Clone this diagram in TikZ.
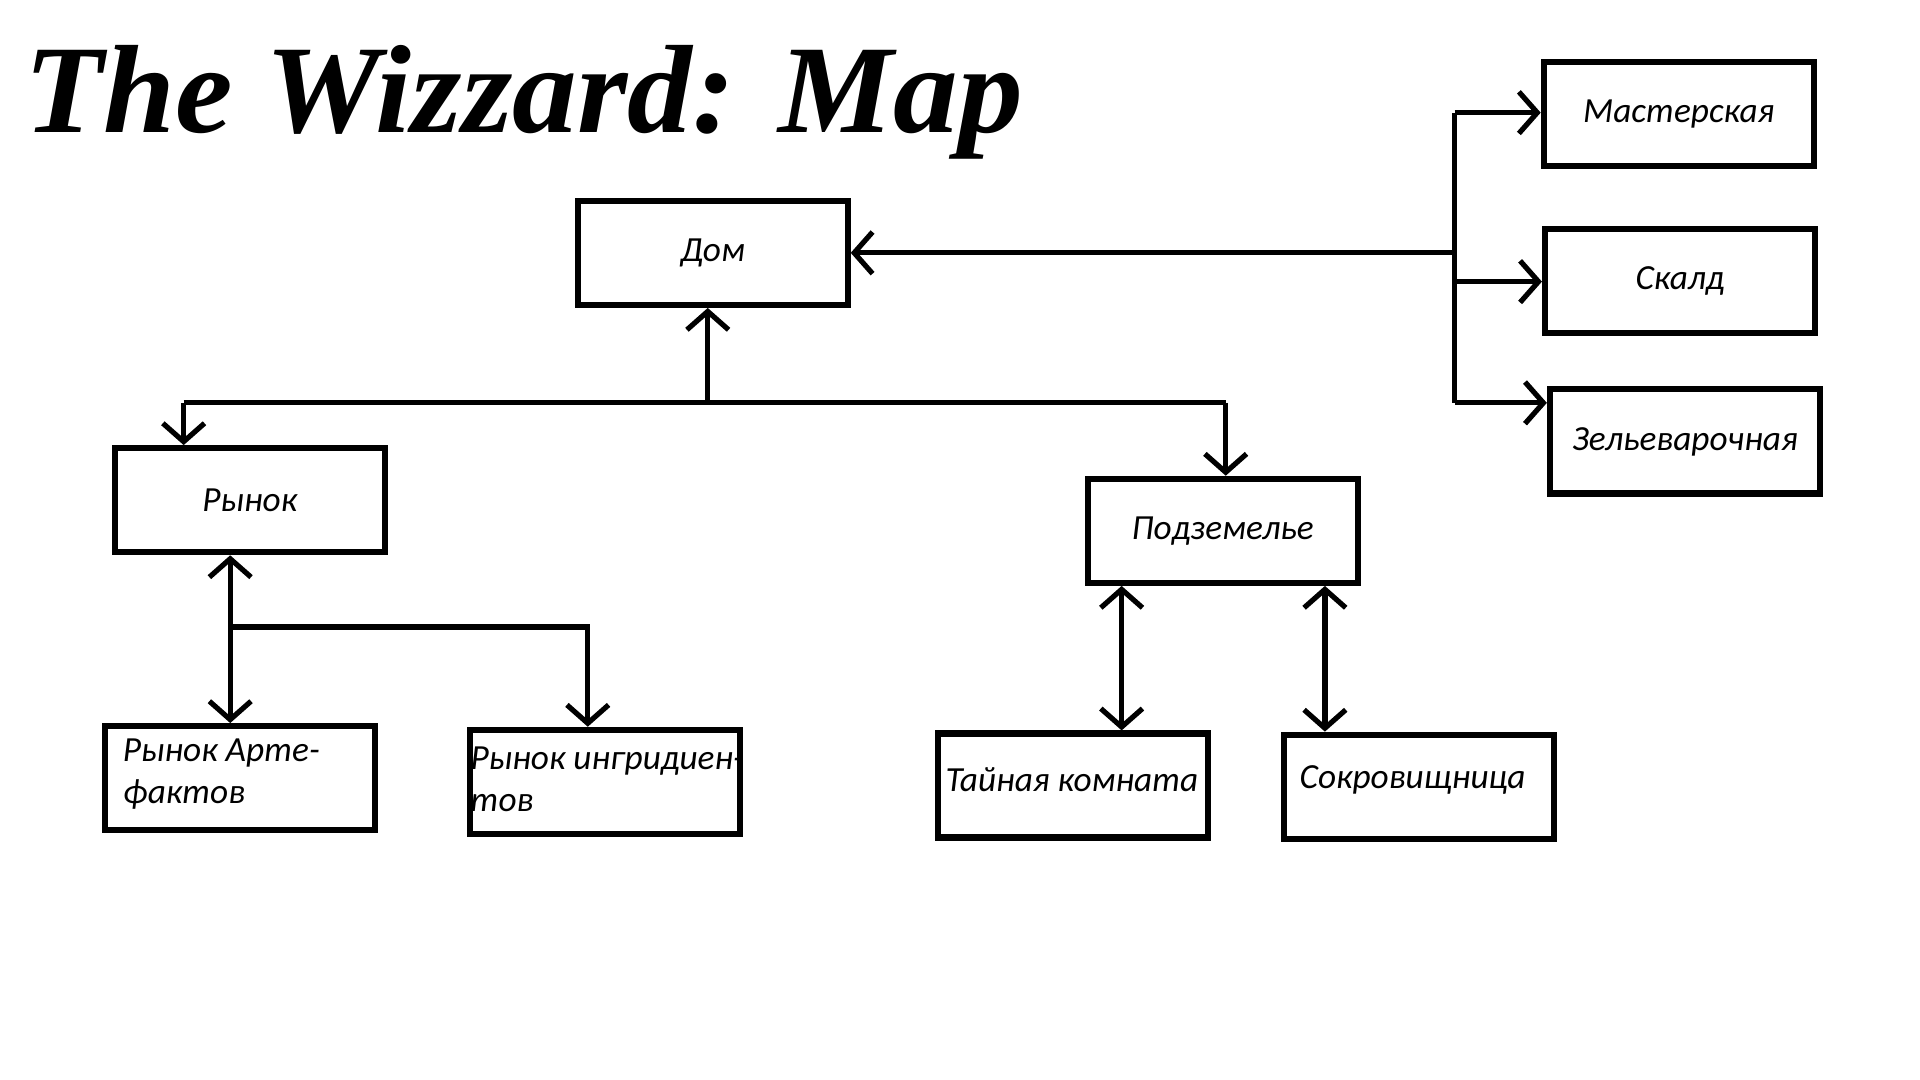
\documentclass[tikz,border=0pt]{standalone}
\usepackage{fontspec}
\setmainfont{Carlito}
\newfontfamily\titlefont{Liberation Serif}
\usepackage{graphicx}
\usetikzlibrary{arrows.meta}

\newcommand\roomfont{\itshape\fontsize{16.4pt}{19.6pt}\selectfont}

\begin{document}
\begin{tikzpicture}[x=0.2mm,y=-0.2mm]
        % Define styles for shapes
        \tikzset{room/.style={draw, line width=1mm, minimum width=44.1mm, minimum height=17mm, inner sep=0pt, font=\roomfont}}
        \tikzset{note/.style={inner sep=0pt, align=left, font=\roomfont}}
        \tikzset{link/.style={line width=0.85mm}}
        \tikzset{tip/.style={-{Straight Barb[length=3mm, width=6.8mm]}}}
        \tikzset{tips/.style={{Straight Barb[length=3mm, width=6.8mm]}-{Straight Barb[length=3mm, width=6.8mm]}}}

        \useasboundingbox (0,0) rectangle (1568,882);

        % Title
        \node[anchor=base west, inner sep=0pt] (title) at (20,108) {\resizebox*{163mm}{18.6mm}{\titlefont\bfseries\itshape The Wizzard: Map}};

        % Draw shapes
        \node[room] (dom) at (582,206.5) {Дом};
        \node[room] (master) at (1371,93) {Мастерская};
        \node[room] (skald) at (1372,229.5) {Скалд};
        \node[room] (zelie) at (1376,360.5) {Зельеварочная};
        \node[room] (rynok) at (204,408.5) {Рынок};
        \node[room] (podzem) at (998.5,433.5) {Подземелье};
        \node[room] (artef) at (196,635.5) {};
        \node[room] (ingr) at (494,638.5) {};
        \node[room] (tain) at (876,641.5) {};
        \node[room] (sokr) at (1159,642.5) {};

        % Texts of the lower rooms
        \node[note, anchor=base west] (artefT) at (100,656) {Рынок Арте-\\фактов};
        \node[note, anchor=base west] (ingrT) at (384,663) {Рынок ингридиен-\\тов};
        \node[note, anchor=base west] (tainT) at (772,646) {Тайная комната};
        \node[note, anchor=base west] (sokrT) at (1061,644) {Сокровищница};

        % Bus points
        \coordinate (east) at (1188,206.5);
        \coordinate (eastA) at (1188,92);
        \coordinate (eastB) at (1188,230);
        \coordinate (eastC) at (1188,329);
        \coordinate (mid) at (578,329);
        \coordinate (midL) at (150,329);
        \coordinate (midR) at (1001,329);
        \coordinate (low) at (188,512);
        \coordinate (lowR) at (480,512);
        \coordinate (downA) at (916,0);
        \coordinate (downB) at (1082,0);

        % Connectors
        \draw[link, tip] (east) -- (dom.east);
        \draw[link] (eastA) -- (eastC);
        \draw[link, tip] (eastA) -- (eastA -| master.west);
        \draw[link, tip] (eastB) -- (eastB -| skald.west);
        \draw[link, tip] (eastC) -- (eastC -| zelie.west);
        \draw[link, tip] (mid) -- (mid |- dom.south);
        \draw[link] (midL) -- (midR);
        \draw[link, tip] (midL) -- (midL |- rynok.north);
        \draw[link, tip] (midR) -- (midR |- podzem.north);
        \draw[link, tips] (low |- rynok.south) -- (low |- artef.north);
        \draw[link, tip] (low) -- (lowR) -- (lowR |- ingr.north);
        \draw[link, tips] (downA |- podzem.south) -- (downA |- tain.north);
        \draw[link, tips] (downB |- podzem.south) -- (downB |- sokr.north);
\end{tikzpicture}
\end{document}
